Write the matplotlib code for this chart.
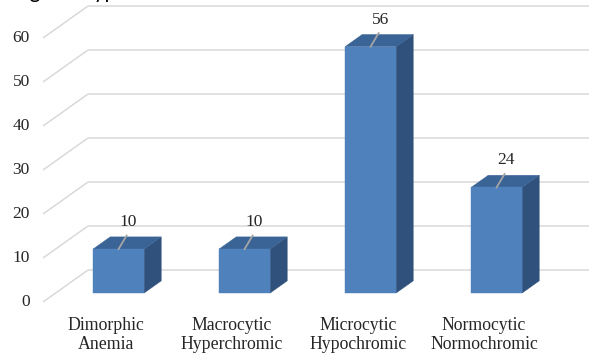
import matplotlib
matplotlib.use("Agg")
import matplotlib.pyplot as plt
from matplotlib.patches import Polygon

# Data
categories = ["Dimorphic\nAnemia", "Macrocytic\nHyperchromic",
              "Microcytic\nHypochromic", "Normocytic\nNormochromic"]
values = [10, 10, 56, 24]
yticks = [0, 10, 20, 30, 40, 50, 60]
title = "Showing the Type of Anemia"

# Layout of the oblique 3-D projection (pixels of a 589x355 canvas)
W, H = 589, 355
PX_PER_CAT = 126.0
PX_PER_UNIT = 4.4
ORIGIN_X, ORIGIN_Y = 43.0, 302.0
DEPTH_PX = (45.0, 32.0)          # full floor depth: right / up

# depth vector in data units
DX = DEPTH_PX[0] / PX_PER_CAT
DY = DEPTH_PX[1] / PX_PER_UNIT

BAR_W = 0.405                    # front face width (category units)
BAR_Z0, BAR_Z1 = 0.28, 0.66      # bar front / back as fraction of depth

FRONT = "#4F81BD"
TOP = "#3B6496"
SIDE = "#30517C"
GRID = "#D9D9D9"

plt.rcParams["font.family"] = ["Liberation Serif", "DejaVu Serif"]

fig = plt.figure(figsize=(W / 100, H / 100), dpi=100)
ax = fig.add_axes([0, 0, 1, 1])
ax.set_xlim(-ORIGIN_X / PX_PER_CAT, (W - ORIGIN_X) / PX_PER_CAT)
ax.set_ylim(-(H - ORIGIN_Y) / PX_PER_UNIT, ORIGIN_Y / PX_PER_UNIT)
ax.axis("off")

x_right = ax.get_xlim()[1] + 0.1

# Side-wall and back-wall gridlines
for v in yticks:
    ax.plot([0, DX], [v, v + DY], color=GRID, lw=1.1, zorder=1,
            solid_capstyle="butt")
    ax.plot([DX, x_right], [v + DY, v + DY], color=GRID, lw=1.1, zorder=1,
            solid_capstyle="butt")
    ax.text(-0.105, v, str(v), ha="right", va="center", fontsize=12.5,
            color="#262626")

# Bars
bdx = (BAR_Z1 - BAR_Z0) * DX
bdy = (BAR_Z1 - BAR_Z0) * DY
for i, (cat, v) in enumerate(zip(categories, values)):
    cx = i + 0.5 + BAR_Z0 * DX
    y0 = BAR_Z0 * DY
    x0, x1 = cx - BAR_W / 2, cx + BAR_W / 2
    y1 = y0 + v
    side = Polygon([(x1, y0), (x1, y1), (x1 + bdx, y1 + bdy), (x1 + bdx, y0 + bdy)],
                   closed=True, fc=SIDE, ec=SIDE, lw=0.3, zorder=2)
    top = Polygon([(x0, y1), (x1, y1), (x1 + bdx, y1 + bdy), (x0 + bdx, y1 + bdy)],
                  closed=True, fc=TOP, ec=TOP, lw=0.3, zorder=2)
    front = Polygon([(x0, y0), (x1, y0), (x1, y1), (x0, y1)],
                    closed=True, fc=FRONT, ec=FRONT, lw=0.3, zorder=3)
    for p in (side, top, front):
        ax.add_patch(p)

    # leader line and value label
    lx0, ly0 = cx, y1
    lx1, ly1 = cx + 8 / PX_PER_CAT, y1 + 13.5 / PX_PER_UNIT
    ax.plot([lx0, lx1], [ly0, ly1], color="#A6A6A6", lw=1.3, zorder=4)
    ax.text(lx1 + 1.5 / PX_PER_CAT, ly1 + 13.5 / PX_PER_UNIT, str(v),
            ha="center", va="center", fontsize=12.5, color="#262626", zorder=5)

    # category label
    ax.text(i + 0.5, -15.5 / PX_PER_UNIT, cat, ha="center", va="top",
            fontsize=12.8, linespacing=1.12, color="#262626")

# Chart title (sits mostly above the canvas)
fig.text(-38 / W, 1 + 1.5 / H, title, ha="left", va="baseline",
         fontsize=15, family=["Lato", "DejaVu Sans"], color="#000000")

fig.savefig("out.png", dpi=100)
